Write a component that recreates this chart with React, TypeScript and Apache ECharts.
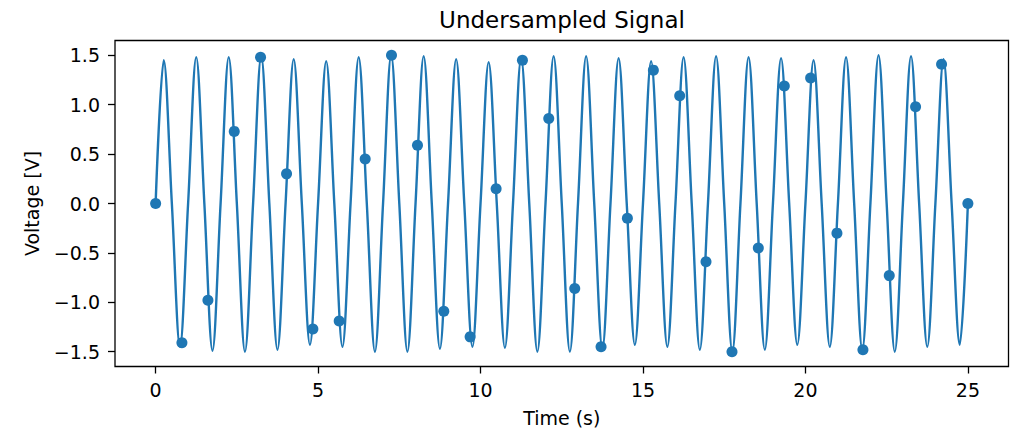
import React, { useEffect, useRef } from "react";
import * as echarts from "echarts";

// Sampled points (markers)
const sampleTime = [0, 0.81, 1.61, 2.42, 3.23, 4.03, 4.84, 5.65, 6.45, 7.26, 8.06, 8.87, 9.68, 10.48, 11.29, 12.1, 12.9, 13.71, 14.52, 15.32, 16.13, 16.94, 17.74, 18.55, 19.35, 20.16, 20.97, 21.77, 22.58, 23.39, 24.19, 25.0];
const sampleVolt = [0, -1.41, -0.98, 0.73, 1.48, 0.3, -1.27, -1.19, 0.45, 1.5, 0.59, -1.09, -1.35, 0.15, 1.45, 0.86, -0.86, -1.45, -0.15, 1.35, 1.09, -0.59, -1.5, -0.45, 1.19, 1.27, -0.3, -1.48, -0.73, 0.98, 1.41, 0];

// Continuous signal: crest and trough heights read per cycle (one cycle per second)
const cycleStart = [0, 1, 2, 3, 4, 5, 6, 7, 8, 9, 10, 11, 12, 13, 14, 15, 16, 17, 18, 19, 20, 21, 22, 23, 24];
const crestVolt = [1.45, 1.48, 1.48, 1.49, 1.46, 1.44, 1.48, 1.5, 1.49, 1.46, 1.43, 1.47, 1.49, 1.49, 1.47, 1.44, 1.48, 1.49, 1.48, 1.47, 1.45, 1.48, 1.5, 1.49, 1.46];
const troughVolt = [-1.45, -1.49, -1.5, -1.48, -1.43, -1.45, -1.5, -1.5, -1.47, -1.45, -1.46, -1.5, -1.5, -1.47, -1.43, -1.45, -1.48, -1.5, -1.48, -1.43, -1.45, -1.48, -1.5, -1.45, -1.43];

const xTicks = [0, 5, 10, 15, 20, 25];
const yTicks = [-1.5, -1.0, -0.5, 0.0, 0.5, 1.0, 1.5];

const FONT = "DejaVu Sans";
const BLUE = "#1f77b4";

export default function App() {
  const ref = useRef<HTMLDivElement>(null);
  useEffect(() => {
    document.body.style.margin = "0";
    if (!ref.current) return;
    const chart = echarts.init(ref.current, null, { renderer: "svg" });

    const curve: [number, number][] = [[cycleStart[0], 0]];
    cycleStart.forEach((c, i) => {
      curve.push([c + 0.25, crestVolt[i]]);
      curve.push([c + 0.5, 0]);
      curve.push([c + 0.75, troughVolt[i]]);
      curve.push([c + 1, 0]);
    });
    const points = sampleTime.map((t, i) => [t, sampleVolt[i]]);

    const tickStyle = { color: "#000", width: 1.3 };
    chart.setOption({
      animation: false,
      backgroundColor: "#fff",
      title: {
        text: "Undersampled Signal",
        left: 562,
        top: 8,
        textAlign: "center",
        padding: 0,
        textStyle: { fontFamily: FONT, fontSize: 23, fontWeight: "normal", color: "#000", lineHeight: 23 },
      },
      grid: {
        left: 115,
        top: 40.5,
        right: 1.5,
        bottom: 63.5,
        show: true,
        borderColor: "#000",
        borderWidth: 1.3,
        backgroundColor: "transparent",
        outerBoundsMode: "none",
        containLabel: false,
      },
      xAxis: {
        type: "value",
        position: "bottom",
        min: -1.25,
        max: 26.25,
        name: "Time (s)",
        nameLocation: "middle",
        nameGap: 42,
        nameTextStyle: { fontFamily: FONT, fontSize: 19, color: "#000", lineHeight: 19 },
        axisLine: { show: false, onZero: false },
        splitLine: { show: false },
        axisTick: { show: true, length: 7, inside: false, lineStyle: tickStyle, customValues: xTicks },
        axisLabel: {
          customValues: xTicks,
          margin: 14,
          fontFamily: FONT,
          fontSize: 19,
          lineHeight: 19,
          color: "#000",
          formatter: (v: number) => String(v),
        },
      },
      yAxis: {
        type: "value",
        position: "left",
        min: -1.65,
        max: 1.65,
        name: "Voltage [V]",
        nameLocation: "middle",
        nameGap: 74,
        nameTextStyle: { fontFamily: FONT, fontSize: 19, color: "#000", lineHeight: 19 },
        axisLine: { show: false, onZero: false },
        splitLine: { show: false },
        axisTick: { show: true, length: 7, inside: false, lineStyle: tickStyle, customValues: yTicks },
        axisLabel: {
          customValues: yTicks,
          margin: 15,
          fontFamily: FONT,
          fontSize: 19,
          lineHeight: 19,
          color: "#000",
          formatter: (v: number) => (v < 0 ? "\u2212" : "") + Math.abs(v).toFixed(1),
        },
      },
      series: [
        {
          type: "line",
          data: curve,
          smooth: 0.35,
          showSymbol: false,
          symbol: "none",
          lineStyle: { color: BLUE, width: 2.4 },
          z: 2,
        },
        {
          type: "scatter",
          data: points,
          symbol: "circle",
          symbolSize: 11,
          itemStyle: { color: BLUE, opacity: 1 },
          z: 3,
        },
      ],
    });
    return () => chart.dispose();
  }, []);
  return <div ref={ref} style={{ width: 1010, height: 430 }} />;
}
